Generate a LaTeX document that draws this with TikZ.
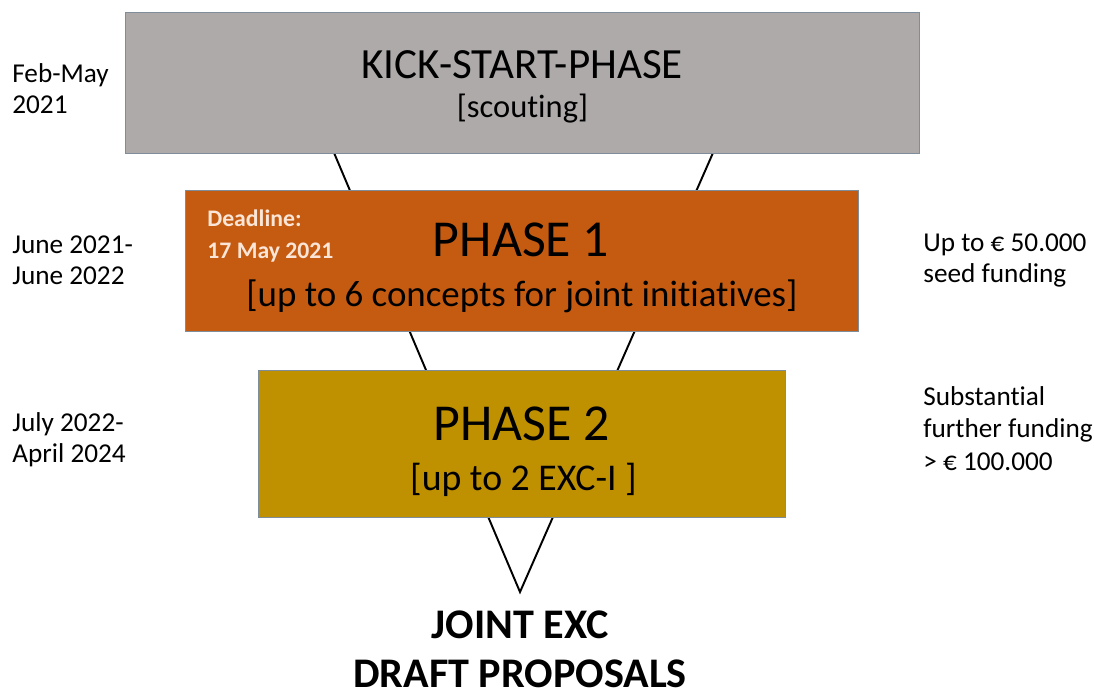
\documentclass[tikz,border=0pt]{standalone}
\usepackage{fontspec}
\setmainfont{Carlito}[Ligatures=NoCommon]
\usetikzlibrary{positioning}
\definecolor{kickgray}{HTML}{AEAAAA}
\definecolor{phaseorange}{HTML}{C55A11}
\definecolor{phasegold}{HTML}{BF9000}
\definecolor{boxedge}{HTML}{7F8C9A}
\definecolor{deadlinecream}{HTML}{FBE5D6}
\tikzset{
	phasebox/.style={draw=boxedge, line width=0.5pt, inner sep=0pt},
	sidelabel/.style={anchor=west, align=left, inner sep=0pt, font=\fontsize{15.5}{17.6}\selectfont},
}

\begin{document}
\begin{tikzpicture}
		%%%%% START %%%%%
		\useasboundingbox (0, 0) rectangle (21.88, -13.96);
		
		% funnel behind the boxes
		\coordinate (funnelL) at (5.64, -0.6);
		\coordinate (funnelR) at (15.34, -0.6);
		\coordinate (tip) at (10.4, -11.84);
		\draw[line width=1.1pt] (funnelL) -- (tip) -- (funnelR);
		
		% boxes
		\node[phasebox, fill=kickgray, minimum width=15.88cm, minimum height=2.82cm] (kick) at (10.44, -1.65) {};
		\node[phasebox, fill=phaseorange, minimum width=13.46cm, minimum height=2.82cm] (phase1) at (10.43, -5.21) {};
		\node[phasebox, fill=phasegold, minimum width=10.54cm, minimum height=2.94cm] (phase2) at (10.43, -8.87) {};
		
		% box texts
		\node[font=\fontsize{24.5}{28}\selectfont] (kicktitle) at (10.44, -1.29) {KICK-START-PHASE};
		\node[font=\fontsize{18.5}{22}\selectfont] (kicksub) at (10.45, -2.18) {[scouting]};
		\node[font=\fontsize{29.5}{34}\selectfont] (phase1title) at (10.42, -4.8) {PHASE 1};
		\node[font=\fontsize{21}{25}\selectfont] (phase1sub) at (10.44, -5.92) {[up to 6 concepts for joint initiatives]};
		\node[anchor=west, align=left, inner sep=0pt, text=deadlinecream, font=\fontsize{13.5}{18}\selectfont\bfseries] (deadline) at (4.14, -4.72) {Deadline:\\17 May 2021};
		\node[font=\fontsize{29.5}{34}\selectfont] (phase2title) at (10.43, -8.47) {PHASE 2};
		\node[font=\fontsize{21.5}{25}\selectfont] (phase2sub) at (10.47, -9.6) {[up to 2 EXC-I ]};
		
		% time line (left)
		\node[sidelabel] (kickdate) at (0.24, -1.77) {Feb-May\\2021};
		\node[sidelabel] (phase1date) at (0.24, -5.21) {June 2021-\\June 2022};
		\node[sidelabel] (phase2date) at (0.24, -8.79) {July 2022-\\April 2024};
		
		% funding (right)
		\node[sidelabel] (phase1money) at (18.46, -5.21) {Up to € 50.000\\seed funding};
		\node[sidelabel, font=\fontsize{15.5}{18.5}\selectfont] (phase2money) at (18.46, -8.57) {Substantial\\further funding\\> € 100.000};
		
		% outcome
		\node[anchor=south, align=center, inner sep=0pt, font=\fontsize{24}{28}\selectfont\bfseries] (outcome) at (10.4, -13.76) {JOINT EXC\\DRAFT PROPOSALS};
		
		%%%%% END %%%%%
	\end{tikzpicture}
\end{document}
